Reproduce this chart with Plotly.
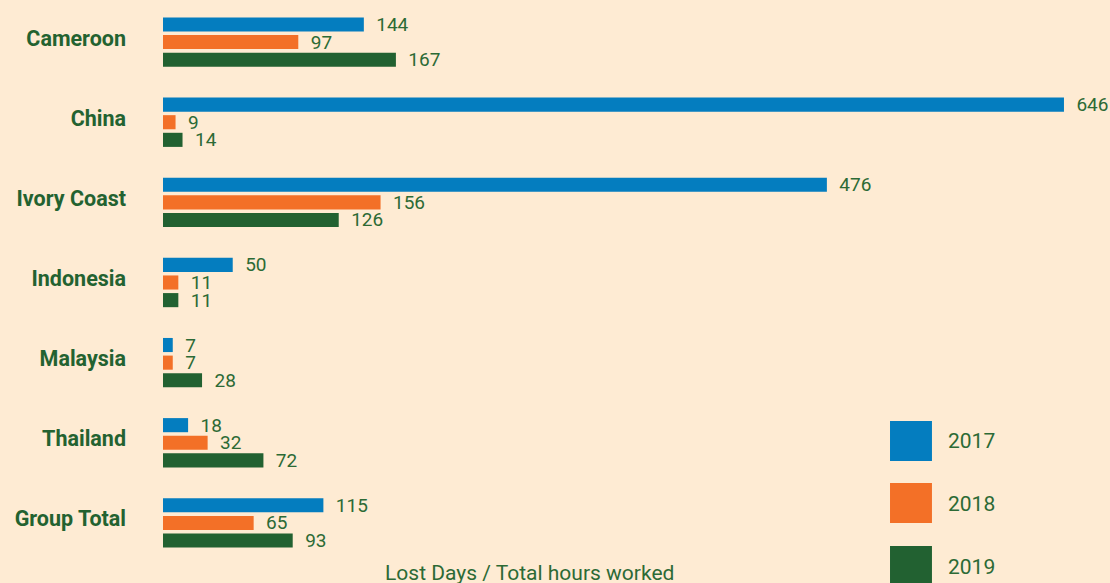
import plotly.graph_objects as go

categories = ["Cameroon", "China", "Ivory Coast", "Indonesia", "Malaysia", "Thailand", "Group Total"]
years = ["2017", "2018", "2019"]
v2017 = [144, 646, 476, 50, 7, 18, 115]
v2018 = [97, 9, 156, 11, 7, 32, 65]
v2019 = [167, 14, 126, 11, 28, 72, 93]
series = [v2017, v2018, v2019]
colors = ["#047dbf", "#f37027", "#226131"]

BG = "#feebd3"
TXT = "#2c6a35"
LBL = "#236230"
FONT = "Roboto"

fig = go.Figure()
for name, vals, col in zip(years, series, colors):
    fig.add_trace(go.Bar(
        y=categories, x=vals, name=name, orientation="h",
        marker=dict(color=col, line=dict(width=0)),
        text=vals, texttemplate="\u00a0\u00a0%{x}", textposition="outside",
        textfont=dict(family=FONT, size=19, color=TXT),
        constraintext="none", cliponaxis=False, showlegend=False,
    ))

fig.update_layout(
    width=1110, height=583,
    margin=dict(l=163, r=0, t=2, b=20, autoexpand=False),
    paper_bgcolor=BG, plot_bgcolor=BG,
    barmode="group", bargap=0.34, bargroupgap=0.2,
    font=dict(family=FONT, color=TXT),
    xaxis=dict(range=[0, 679], showgrid=False, zeroline=False, showticklabels=False,
               showline=False, ticks=""),
    yaxis=dict(autorange="reversed", showgrid=False, zeroline=False, showline=False,
               ticks="", ticklabelstandoff=36, ticklabelshift=4,
               tickfont=dict(family=FONT, size=21.5, color=LBL, weight="bold")),
)

fig.add_annotation(text="Lost Days / Total hours worked", xref="paper", yref="paper",
                   x=0.3865, y=-0.0178, xanchor="center", yanchor="middle",
                   showarrow=False, font=dict(family=FONT, size=21, color=TXT))

# custom legend (large squares)
leg_y = [(0.1818, 0.253), (0.0713, 0.1426), (-0.041, 0.0303)]
leg_text_y = [(563 - 441) / 561, (563 - 504) / 561, (563 - 567) / 561]
for name, col, (y0, y1), ty in zip(years, colors, leg_y, leg_text_y):
    fig.add_shape(type="rect", xref="paper", yref="paper", x0=0.7677, x1=0.812,
                  y0=y0, y1=y1, fillcolor=col, line=dict(width=0), layer="above")
    fig.add_annotation(text=name, xref="paper", yref="paper", x=0.827, y=ty,
                       xanchor="left", yanchor="middle", showarrow=False,
                       font=dict(family=FONT, size=21, color=TXT))

fig.write_html("out.html", config={"displayModeBar": False},
               post_script="document.body.style.margin='0';")
